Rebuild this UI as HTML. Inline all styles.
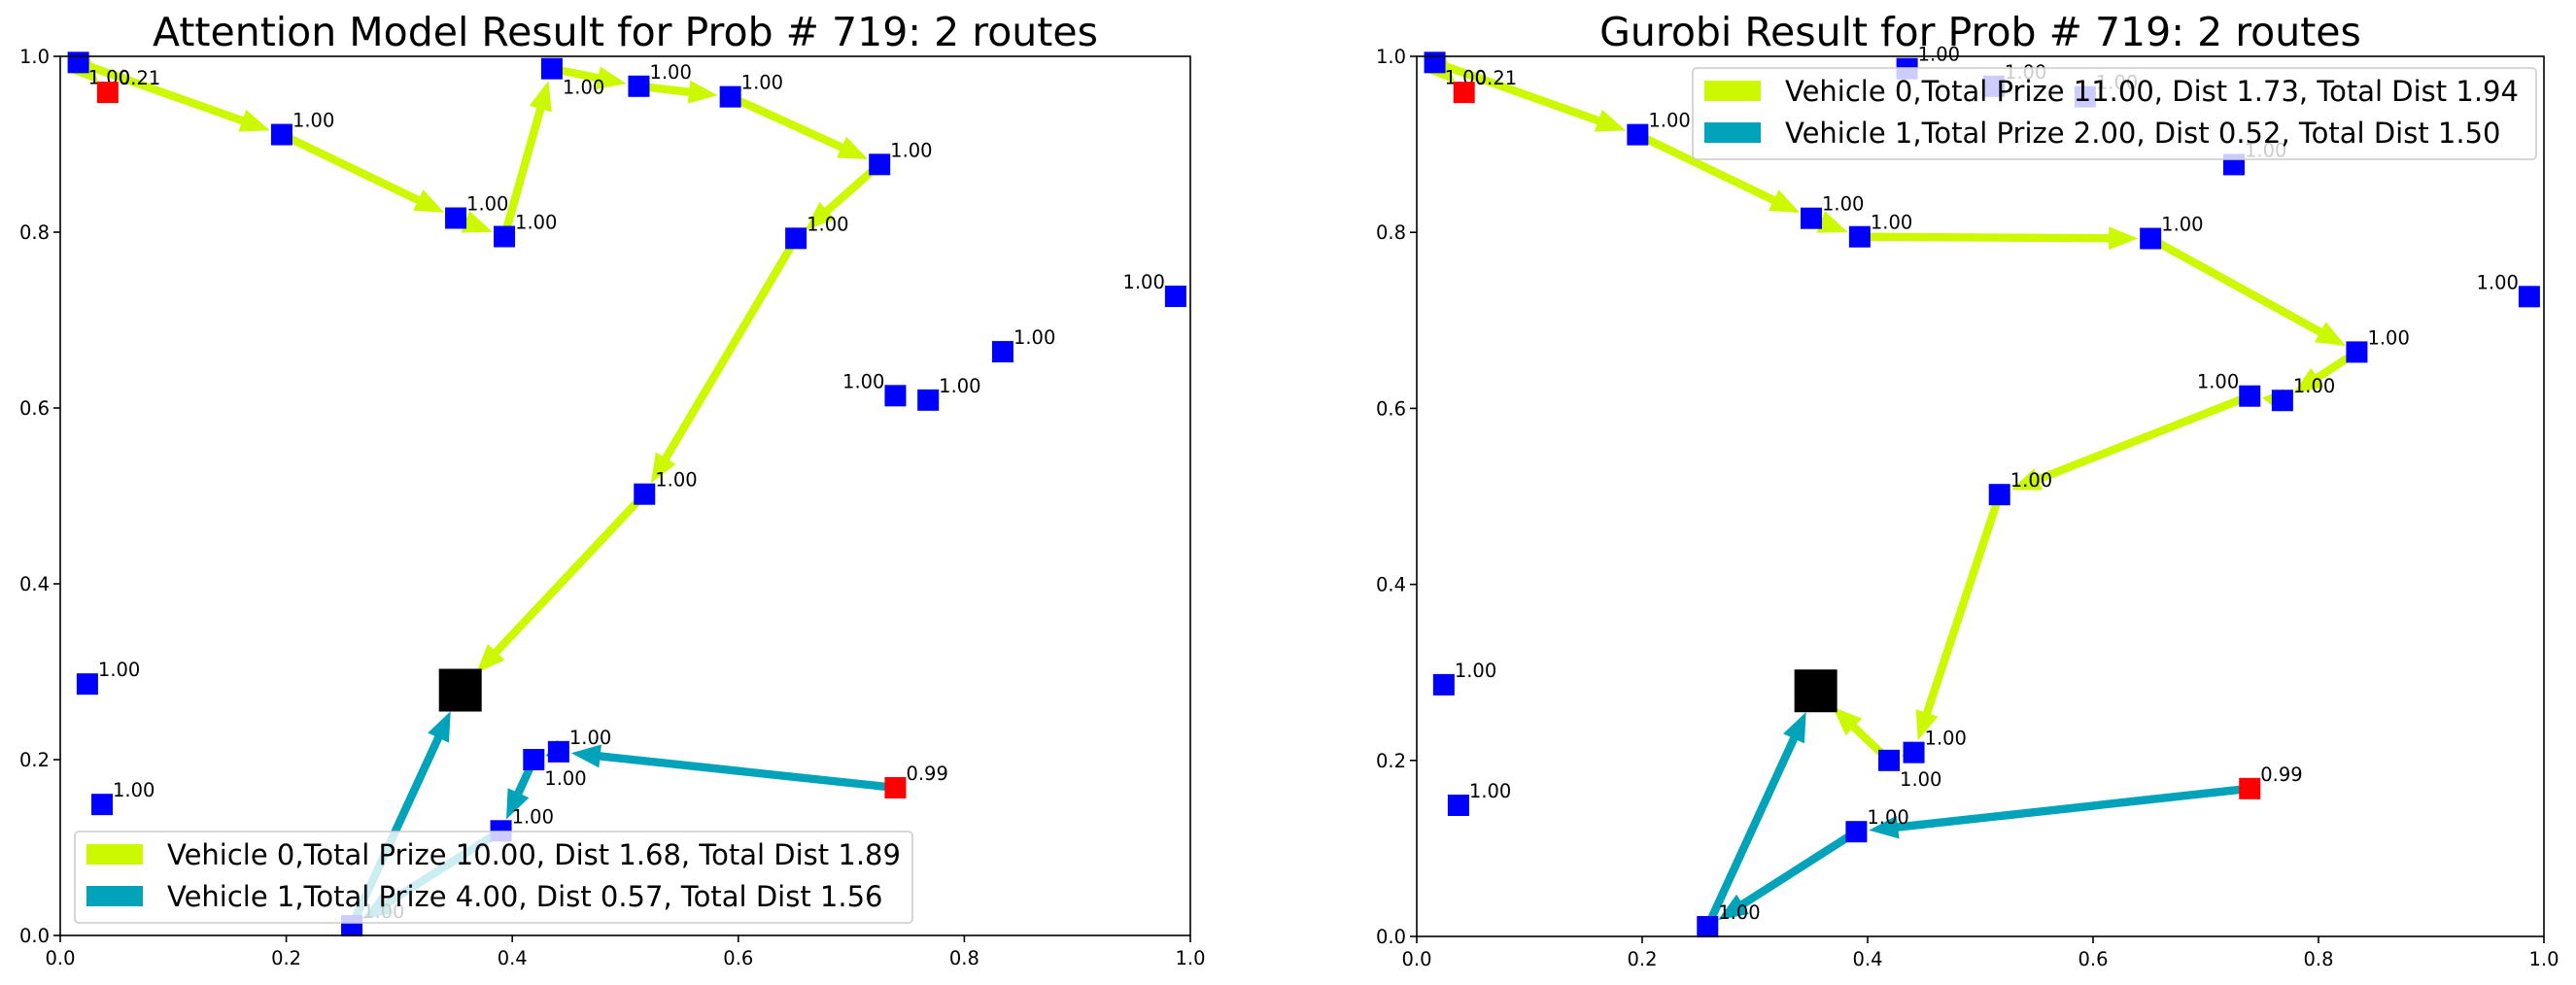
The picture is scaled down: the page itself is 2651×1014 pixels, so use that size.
<!DOCTYPE html>
<html><head><meta charset="utf-8"><style>
html,body{margin:0;padding:0;background:#fff;}
svg{display:block;font-family:"DejaVu Sans","Liberation Sans",sans-serif;}
</style></head><body>
<svg id="fig" width="2651" height="1014" viewBox="0 0 2651 1014" xmlns="http://www.w3.org/2000/svg"></svg>
<script>
// Node coordinates (data units)
const nodeX = [0.016,0.042,0.196,0.350,0.393,0.435,0.512,0.593,0.725,0.651,0.517,0.441,0.419,0.739,0.390,0.258,0.024,0.037,0.987,0.834,0.739,0.768];
const nodeY = [0.993,0.959,0.911,0.816,0.795,0.986,0.966,0.954,0.877,0.793,0.502,0.209,0.200,0.168,0.119,0.011,0.286,0.149,0.727,0.664,0.614,0.609];
const nodePrize = ["1.00","0.21","1.00","1.00","1.00","1.00","1.00","1.00","1.00","1.00","1.00","1.00","1.00","0.99","1.00","1.00","1.00","1.00","1.00","1.00","1.00","1.00"];
const nodeRed = [1,13];
const depotX = 0.354, depotY = 0.279;
const ticks = [0.0,0.2,0.4,0.6,0.8,1.0];
const tickLabels = ["0.0","0.2","0.4","0.6","0.8","1.0"];
// edges: -1 = depot
const leftV0 = [[0,1],[0,2],[2,3],[3,4],[4,5],[5,6],[6,7],[7,8],[8,9],[9,10],[10,-1]];
const leftV1 = [[13,11],[11,12],[12,14],[14,15],[15,-1]];
const rightV0 = [[0,1],[0,2],[2,3],[3,4],[4,9],[9,19],[19,21],[21,20],[20,10],[10,11],[11,12],[12,-1]];
const rightV1 = [[13,14],[14,15],[15,-1]];
const leftLegend = ["Vehicle 0,Total Prize 10.00, Dist 1.68, Total Dist 1.89","Vehicle 1,Total Prize 4.00, Dist 0.57, Total Dist 1.56"];
const rightLegend = ["Vehicle 0,Total Prize 11.00, Dist 1.73, Total Dist 1.94","Vehicle 1,Total Prize 2.00, Dist 0.52, Total Dist 1.50"];
// label placement: 0 = upper right, 1 = lower right, 2 = upper left
const leftLabelPos = [1,0,0,0,0,1,0,0,0,0,0,0,1,0,0,0,0,0,2,0,2,0];
const rightLabelPos = [1,0,0,0,0,0,0,0,0,0,0,0,1,0,0,0,0,0,2,0,2,0];

const NS="http://www.w3.org/2000/svg";
const svg=document.getElementById('fig');
const YEL="#ccf900", TEAL="#00a3b9";
function mk(tag,attrs,parent){const e=document.createElementNS(NS,tag);for(const k in attrs)e.setAttribute(k,attrs[k]);(parent||svg).appendChild(e);return e;}

function panel(ax, title, v0, v1, legend, labelPos, legendBox, pname){
  const g=mk('g',{});
  
  
  const sx=v=>ax.x0+v*(ax.x1-ax.x0);
  const sy=v=>ax.y0-v*(ax.y0-ax.y1);
  const t=mk('text',{x:(ax.x0+ax.x1)/2,y:47,'text-anchor':'middle','font-size':41,fill:'#000'},g);
  t.textContent=title;
  
  
  ticks.forEach((v,i)=>{
    const x=sx(v), y=sy(v);
    mk('line',{x1:x,y1:ax.y0,x2:x,y2:ax.y0+7,stroke:'#000','stroke-width':1.6},g);
    const tx=mk('text',{x:x,y:ax.y0+30,'text-anchor':'middle','font-size':19.5},g);
    tx.textContent=tickLabels[i];
    
    
    mk('line',{x1:ax.x0-7,y1:y,x2:ax.x0,y2:y,stroke:'#000','stroke-width':1.6},g);
    const ty=mk('text',{x:ax.x0-11,y:y+7,'text-anchor':'end','font-size':19.5},g);
    ty.textContent=tickLabels[i];
    
    
  });
  const pt=i=> i<0?[sx(depotX),sy(depotY)]:[sx(nodeX[i]),sy(nodeY[i])];
  function arrow(a,b,color,name){
    const [x1,y1]=pt(a), [x2,y2]=pt(b);
    const dx=x2-x1, dy=y2-y1, L=Math.hypot(dx,dy);
    const ux=dx/L, uy=dy/L, nx=-uy, ny=ux;
    const end = b<0?24:13;
    const tx=x2-ux*end, ty=y2-uy*end;
    const hl=Math.min(30,L*0.6), hw=12, w=4.2;
    const bx=tx-ux*hl, by=ty-uy*hl;
    const pts=[[x1+nx*w,y1+ny*w],[bx+nx*w,by+ny*w],[bx+nx*hw,by+ny*hw],[tx,ty],[bx-nx*hw,by-ny*hw],[bx-nx*w,by-ny*w],[x1-nx*w,y1-ny*w]];
    const p=mk('polygon',{points:pts.map(q=>q[0].toFixed(1)+','+q[1].toFixed(1)).join(' '),fill:color},g);
    
    
  }
  v0.forEach(e=>arrow(e[0],e[1],YEL,'vehicle-0-arrow'));
  v1.forEach(e=>arrow(e[0],e[1],TEAL,'vehicle-1-arrow'));
  nodeX.forEach((v,i)=>{
    const x=sx(v), y=sy(nodeY[i]);
    const r=mk('rect',{x:x-11,y:y-11,width:22,height:22,fill:nodeRed.includes(i)?'#ff0000':'#0000ff'},g);
    
    
    const pos=labelPos[i];
    let lx=x+11, ly=y-8, anc='start';
    if(pos===1){ly=y+26;}
    if(i===0){ly=y+22;lx=x+10;}
    if(pos===2){lx=x-11;anc='end';}
    const lt=mk('text',{x:lx,y:ly,'text-anchor':anc,'font-size':19.5},g);
    lt.textContent=nodePrize[i];
    
    
  });
  const d=mk('rect',{x:sx(depotX)-22,y:sy(depotY)-22,width:44,height:44,fill:'#000'},g);
  
  
  mk('rect',{x:ax.x0,y:ax.y1,width:ax.x1-ax.x0,height:ax.y0-ax.y1,fill:'none',stroke:'#000','stroke-width':1.6},g);
  const lg=mk('g',{},g);
  
  
  mk('rect',{x:legendBox.x,y:legendBox.y,width:legendBox.w,height:legendBox.h,rx:4,fill:'#fff','fill-opacity':0.8,stroke:'#ccc','stroke-width':1.6},lg);
  [YEL,TEAL].forEach((c,i)=>{
    const yy=legendBox.y+13+i*43;
    const sw=mk('rect',{x:legendBox.x+12,y:yy,width:58,height:21,fill:c},lg);
    
    
    const tt=mk('text',{x:legendBox.x+95,y:yy+21,'font-size':29},lg);
    tt.textContent=legend[i];
    
    
  });
}
panel({x0:62,x1:1225,y0:963,y1:58},"Attention Model Result for Prob # 719: 2 routes",leftV0,leftV1,leftLegend,leftLabelPos,{x:77,y:856,w:862,h:94},'attention-panel');
panel({x0:1458,x1:2618,y0:964,y1:58},"Gurobi Result for Prob # 719: 2 routes",rightV0,rightV1,rightLegend,rightLabelPos,{x:1742,y:70,w:868,h:94},'gurobi-panel');
</script>
</body></html>
